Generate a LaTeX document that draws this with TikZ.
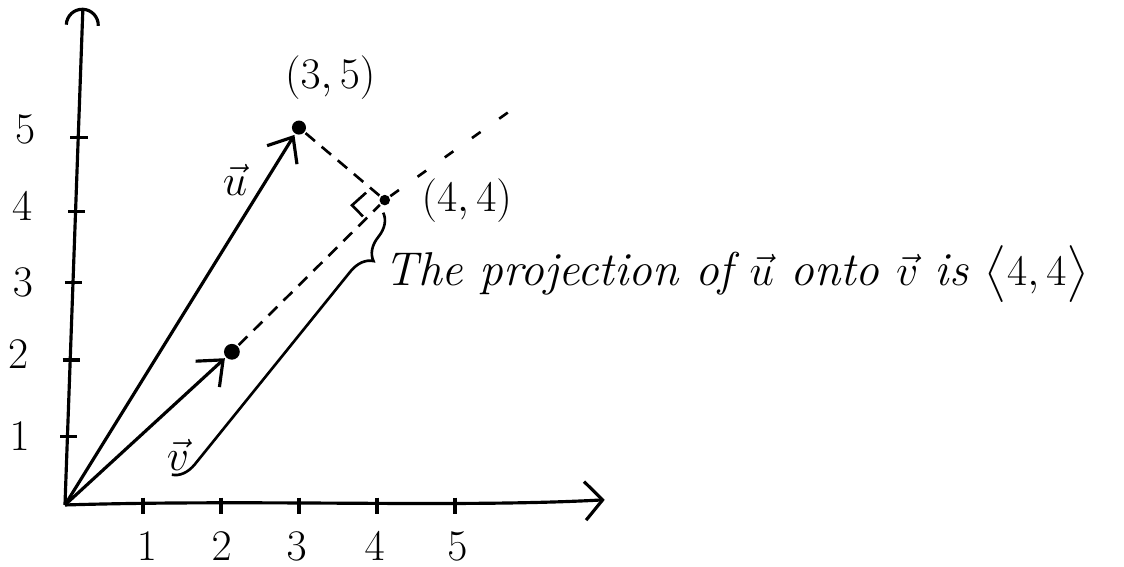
\documentclass[tikz,border=0pt]{standalone}
\usepackage{amsmath, amssymb}
\usetikzlibrary{arrows.meta,decorations.pathreplacing,positioning,calc}

\begin{document}
\begin{tikzpicture}
    [x=1.56cm, y=1.48cm,
    line width=1.8pt,
    vec/.style={-{Straight Barb[length=12pt, width=20pt, line width=1.8pt]}},
    proj/.style={line width=1.5pt, dash pattern=on 7pt off 5pt},
    projext/.style={line width=1.5pt, dash pattern=on 6pt off 13pt},
    vertex/.style={inner sep=0pt, circle, fill=black, minimum size=8pt},
    lbl/.style={font=\fontsize{26}{30}\selectfont},
    axtick/.style={line width=1.8pt}]
        \useasboundingbox (-0.833,-0.838) rectangle (13.577,6.824);

        %% Axes
        \coordinate (O) at (0,0);
        \coordinate (Xend) at (6.92,0.07);
        \coordinate (Yend) at (0.23,6.72);
        \draw[-{Straight Barb[length=10pt, width=22pt]}] (O) .. controls (2.5,0.08) and (5,-0.04) .. (Xend);
        \draw[-{Arc Barb[length=10pt, width=20pt]}] (O) -- (Yend);

        %% ticks on x
        \draw[axtick] (1,0.1) -- (1,-0.12);
        \draw[axtick] (2,0.1) -- (2,-0.12);
        \draw[axtick] (3,0.1) -- (3,-0.12);
        \draw[axtick] (4,0.1) -- (4,-0.12);
        \draw[axtick] (5,0.1) -- (5,-0.12);
        \node[lbl] (X1) at (1.05,-0.56) {$1$};
        \node[lbl] (X2) at (2.01,-0.56) {$2$};
        \node[lbl] (X3) at (2.97,-0.56) {$3$};
        \node[lbl] (X4) at (3.97,-0.56) {$4$};
        \node[lbl] (X5) at (5.03,-0.56) {$5$};

        %% ticks on y
        \draw[axtick] (-0.06,0.92) -- (0.16,0.92);
        \draw[axtick] (-0.03,1.96) -- (0.19,1.96);
        \draw[axtick] (0,3.01) -- (0.22,3.01);
        \draw[axtick] (0.04,3.97) -- (0.26,3.97);
        \draw[axtick] (0.07,4.97) -- (0.29,4.97);
        \node[lbl] (Y1) at (-0.58,0.92) {$1$};
        \node[lbl] (Y2) at (-0.6,2.03) {$2$};
        \node[lbl] (Y3) at (-0.54,3.01) {$3$};
        \node[lbl] (Y4) at (-0.55,4.03) {$4$};
        \node[lbl] (Y5) at (-0.51,5.07) {$5$};

        %% Vectors u and v
        \node[vertex] (U) at (3,5.1) {};
        \node[vertex, minimum size=9pt] (V) at (2.14,2.07) {};
        \node[vertex, minimum size=6pt] (P) at (4.1,4.12) {};
        \coordinate (Vext) at (5.9,5.47);

        \draw[vec] (O) -- (U);
        \draw[vec] (O) -- (V);
        \node[lbl] (Ulbl) at (2.18,4.39) {$\vec{u}$};
        \node[lbl] (Vlbl) at (1.45,0.68) {$\vec{v}$};
        \node[lbl] (Upt) at (3.4,5.77) {$(3,5)$};
        \node[lbl, right=0.45cm of P] (Ppt) {$(4,4)$};

        %% projection
        \draw[proj] (V) -- (P);
        \draw[projext] (P) -- (Vext);
        \draw[proj] (U) -- (P);
        \draw[line width=1.5pt] ($(P)+(-0.24,0.1)$) -- ++(-0.18,-0.17) -- ++(0.14,-0.15);

        %% brace and text
        \coordinate (Btop) at (4.08,3.95);
        \coordinate (Bbot) at (1.37,0.41);
        \draw[line width=1.5pt, decorate, decoration={brace, amplitude=13pt, aspect=0.13}] (Btop) -- (Bbot);
        \node[lbl, font=\fontsize{27}{31}\selectfont\itshape, inner sep=0pt, anchor=base west] (T) at (4.08,2.97)
            {The projection of $\vec{u}$ onto $\vec{v}$ is $\bigl\langle 4, 4\bigr\rangle$};
    \end{tikzpicture}
\end{document}
